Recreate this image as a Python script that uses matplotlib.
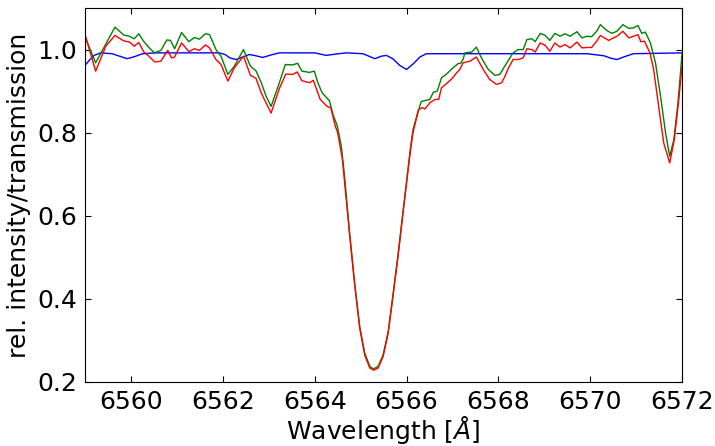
import matplotlib
matplotlib.use("Agg")
import matplotlib.pyplot as plt

# telluric transmission (blue)
wl_tell = [6559.00, 6559.10, 6559.20, 6559.34, 6559.59, 6559.75, 6559.92, 6560.08,
           6560.25, 6560.54, 6561.92, 6562.05, 6562.15, 6562.29, 6562.43, 6562.58,
           6562.72, 6562.87, 6563.05, 6563.23, 6564.00, 6564.25, 6564.45, 6564.69,
           6565.05, 6565.31, 6565.45, 6565.56, 6565.70, 6565.85, 6566.00, 6566.15,
           6566.29, 6566.43, 6569.93, 6570.30, 6570.45, 6570.58, 6570.75, 6570.94,
           6572.00]
tell = [0.962, 0.975, 0.986, 0.992, 0.990, 0.984, 0.978, 0.983,
        0.990, 0.992, 0.992, 0.988, 0.980, 0.976, 0.982, 0.988,
        0.985, 0.981, 0.987, 0.992, 0.992, 0.986, 0.989, 0.992,
        0.990, 0.978, 0.984, 0.986, 0.978, 0.962, 0.952, 0.966,
        0.982, 0.990, 0.990, 0.985, 0.979, 0.976, 0.983, 0.990,
        0.992]

# observed spectrum (red)
wl_obs = [6559.00, 6559.23, 6559.45, 6559.65, 6559.84, 6559.97, 6560.07, 6560.17,
          6560.28, 6560.39, 6560.52, 6560.65, 6560.80, 6560.88, 6560.95, 6561.10,
          6561.26, 6561.38, 6561.49, 6561.62, 6561.71, 6561.85, 6561.96, 6562.11,
          6562.25, 6562.45, 6562.60, 6562.72, 6562.85, 6563.05, 6563.23, 6563.37,
          6563.52, 6563.62, 6563.72, 6563.89, 6563.97, 6564.12, 6564.27, 6564.35,
          6564.45, 6564.50, 6564.60, 6564.66, 6564.76, 6564.87, 6564.98, 6565.09,
          6565.20, 6565.28, 6565.38, 6565.49, 6565.60, 6565.70, 6565.81, 6565.92,
          6566.03, 6566.08, 6566.14, 6566.26, 6566.34, 6566.40, 6566.51, 6566.62,
          6566.70, 6566.76, 6566.87, 6566.98, 6567.09, 6567.16, 6567.23, 6567.38,
          6567.52, 6567.67, 6567.81, 6567.96, 6568.07, 6568.14, 6568.22, 6568.32,
          6568.43, 6568.54, 6568.62, 6568.73, 6568.80, 6568.91, 6569.02, 6569.12,
          6569.23, 6569.34, 6569.45, 6569.56, 6569.71, 6569.82, 6569.93, 6570.03,
          6570.14, 6570.22, 6570.40, 6570.58, 6570.71, 6570.84, 6570.94, 6571.04,
          6571.10, 6571.18, 6571.30, 6571.38, 6571.49, 6571.60, 6571.73, 6571.83,
          6571.92, 6572.00]
obs = [1.036, 0.948, 1.008, 1.034, 1.021, 1.018, 1.008, 1.017,
       0.994, 0.984, 0.970, 0.972, 0.998, 0.980, 0.982, 1.016,
       0.995, 1.002, 0.998, 1.011, 1.004, 0.976, 0.964, 0.924,
       0.956, 0.984, 0.938, 0.931, 0.892, 0.847, 0.906, 0.941,
       0.940, 0.946, 0.925, 0.920, 0.926, 0.880, 0.863, 0.860,
       0.815, 0.800, 0.738, 0.670, 0.555, 0.434, 0.329, 0.264,
       0.233, 0.228, 0.233, 0.261, 0.317, 0.402, 0.498, 0.603,
       0.707, 0.752, 0.800, 0.855, 0.860, 0.857, 0.872, 0.880,
       0.880, 0.908, 0.918, 0.929, 0.944, 0.952, 0.968, 0.972,
       0.982, 0.952, 0.928, 0.916, 0.920, 0.935, 0.956, 0.976,
       0.976, 0.980, 1.002, 1.000, 0.994, 1.016, 1.010, 0.996,
       1.016, 1.006, 1.012, 1.004, 1.018, 1.004, 1.005, 1.005,
       1.020, 1.034, 1.022, 1.032, 1.044, 1.028, 1.032, 1.036,
       1.019, 1.020, 0.992, 0.952, 0.863, 0.775, 0.727, 0.783,
       0.872, 0.960]

# corrected spectrum (green)
wl_corr = [6559.00, 6559.23, 6559.65, 6559.84, 6559.97, 6560.07, 6560.17, 6560.28,
           6560.39, 6560.51, 6560.65, 6560.78, 6560.86, 6560.95, 6561.10, 6561.26,
           6561.38, 6561.49, 6561.62, 6561.71, 6561.85, 6561.96, 6562.11, 6562.25,
           6562.45, 6562.60, 6562.72, 6562.83, 6562.94, 6563.05, 6563.23, 6563.36,
           6563.52, 6563.63, 6563.72, 6563.89, 6563.99, 6564.07, 6564.16, 6564.32,
           6564.40, 6564.49, 6564.58, 6564.65, 6564.76, 6564.87, 6564.98, 6565.09,
           6565.20, 6565.28, 6565.38, 6565.49, 6565.60, 6565.70, 6565.81, 6565.92,
           6566.03, 6566.08, 6566.14, 6566.22, 6566.32, 6566.43, 6566.51, 6566.58,
           6566.67, 6566.76, 6566.87, 6567.01, 6567.12, 6567.18, 6567.23, 6567.27,
           6567.42, 6567.52, 6567.63, 6567.78, 6567.92, 6568.03, 6568.15, 6568.25,
           6568.32, 6568.43, 6568.54, 6568.62, 6568.73, 6568.80, 6568.91, 6569.02,
           6569.12, 6569.23, 6569.34, 6569.45, 6569.56, 6569.71, 6569.82, 6569.93,
           6570.03, 6570.14, 6570.22, 6570.36, 6570.47, 6570.58, 6570.71, 6570.84,
           6570.94, 6571.04, 6571.12, 6571.20, 6571.31, 6571.42, 6571.53, 6571.64,
           6571.73, 6571.82, 6571.91, 6572.00]
corr = [1.030, 0.968, 1.054, 1.035, 1.032, 1.026, 1.038, 1.019,
        1.005, 0.992, 0.998, 1.023, 1.022, 1.002, 1.041, 1.019,
        1.029, 1.025, 1.038, 1.036, 1.000, 0.984, 0.940, 0.960,
        1.000, 0.960, 0.949, 0.922, 0.888, 0.863, 0.920, 0.964,
        0.963, 0.967, 0.948, 0.945, 0.948, 0.920, 0.896, 0.877,
        0.843, 0.817, 0.767, 0.695, 0.558, 0.438, 0.333, 0.269,
        0.237, 0.231, 0.237, 0.265, 0.321, 0.406, 0.502, 0.607,
        0.711, 0.759, 0.807, 0.839, 0.875, 0.878, 0.880, 0.897,
        0.900, 0.932, 0.941, 0.956, 0.966, 0.967, 0.976, 0.992,
        0.994, 1.006, 0.980, 0.952, 0.938, 0.940, 0.962, 0.980,
        0.992, 1.000, 1.000, 1.024, 1.026, 1.019, 1.039, 1.034,
        1.022, 1.039, 1.032, 1.038, 1.032, 1.043, 1.028, 1.032,
        1.031, 1.044, 1.060, 1.046, 1.039, 1.044, 1.060, 1.051,
        1.052, 1.058, 1.039, 1.042, 1.016, 0.968, 0.888, 0.799,
        0.743, 0.783, 0.872, 0.992]

xticks = [6560, 6562, 6564, 6566, 6568, 6570, 6572]
yticks = [0.2, 0.4, 0.6, 0.8, 1.0]

plt.rcParams['font.family'] = 'DejaVu Sans'
plt.rcParams['font.size'] = 18

fig = plt.figure(figsize=(7.15, 4.46), dpi=100)
ax = fig.add_axes([0.119, 0.144, 0.835, 0.838])

ax.plot(wl_tell, tell, color='b', lw=1.0)
ax.plot(wl_corr, corr, color='g', lw=1.0)
ax.plot(wl_obs, obs, color='r', lw=1.0)

ax.set_xlim(6559, 6572)
ax.set_ylim(0.2, 1.1)
ax.set_xticks(xticks)
ax.set_yticks(yticks)
ax.tick_params(direction='in', top=True, right=True, length=4, labelsize=18, pad=6)
ax.set_xlabel(r'Wavelength [$\AA$]', fontsize=18, labelpad=0)
ax.set_ylabel('rel. intensity/transmission', fontsize=18, labelpad=4)

fig.savefig('out.png', dpi=100)
